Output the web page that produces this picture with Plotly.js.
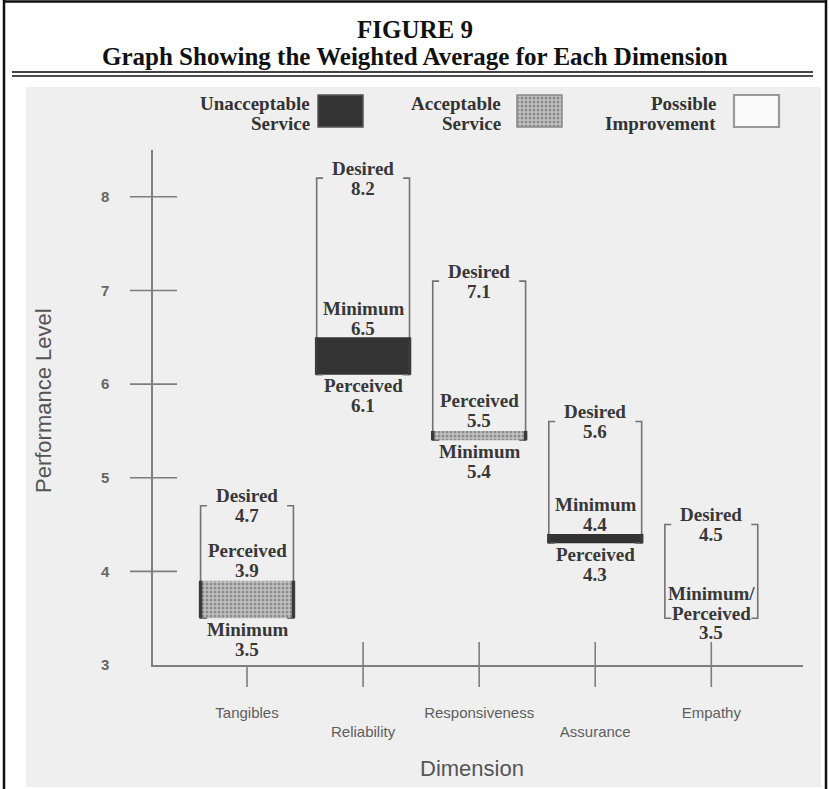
<!DOCTYPE html>
<html><head><meta charset="utf-8">
<script src="https://cdn.plot.ly/plotly-3.0.1.min.js"></script>
<style>html,body{margin:0;padding:0;background:#fff;} #chart{width:829px;height:789px;}</style>
</head><body><div id="chart"></div>
<script>
// ---- data ----
const categories = ['Tangibles', 'Reliability', 'Responsiveness', 'Assurance', 'Empathy'];
const desired   = [4.7, 8.2, 7.1, 5.6, 4.5];
const minimum   = [3.5, 6.5, 5.4, 4.4, 3.5];
const perceived = [3.9, 6.1, 5.5, 4.3, 3.5];
const yTickVals = [3, 4, 5, 6, 7, 8];
const legendNames = [['Unacceptable', 'Service'], ['Acceptable', 'Service'], ['Possible', 'Improvement']];
const titleLines = ['FIGURE 9', 'Graph Showing the Weighted Average for Each Dimension'];
const xTitle = 'Dimension';
const yTitle = 'Performance Level';

// ---- layout helpers (pixel -> paper, margins are 0) ----
const W = 829, H = 789;
const px = X => X / W;
const py = Y => 1 - Y / H;
const serif = 'Liberation Serif, Times New Roman, serif';
const sans = 'Liberation Sans, Arial, sans-serif';
const staggered = [false, true, false, true, false];
const tickAbove = [false, true, true, true, true];

const HALF = 0.4, HOOK = 0.055;
const traces = [];
const annotations = [];
const shapes = [];

// brackets
const bx = [], by = [];
categories.forEach((c, i) => {
  const top = desired[i], bot = Math.min(minimum[i], perceived[i]);
  bx.push(i - HALF + HOOK, i - HALF, i - HALF, i - HALF + HOOK, null,
          i + HALF - HOOK, i + HALF, i + HALF, i + HALF - HOOK, null);
  by.push(top, top, bot, bot, null, top, top, bot, bot, null);
});
traces.push({x: bx, y: by, mode: 'lines', line: {color: '#727272', width: 1.6}, hoverinfo: 'skip', xaxis: 'x', yaxis: 'y'});

// fills
const unX = [], unB = [], unH = [], acX = [], acB = [], acH = [];
categories.forEach((c, i) => {
  const lo = Math.min(minimum[i], perceived[i]), hi = Math.max(minimum[i], perceived[i]);
  if (hi === lo) return;
  if (perceived[i] < minimum[i]) { unX.push(i); unB.push(lo); unH.push(hi - lo); }
  else { acX.push(i); acB.push(lo); acH.push(hi - lo); }
});
traces.push({type: 'bar', x: unX, base: unB, y: unH, width: 2 * HALF,
  marker: {color: '#333', line: {width: 0}}, hoverinfo: 'skip', xaxis: 'x', yaxis: 'y'});
traces.push({type: 'bar', x: acX, base: acB, y: acH, width: 2 * HALF,
  marker: {color: '#b8b8b8', line: {width: 0},
    pattern: {shape: '.', fgcolor: '#8c8c8c', bgcolor: '#c2c2c2', size: 4, solidity: 0.45}},
  hoverinfo: 'skip', xaxis: 'x', yaxis: 'y'});
// fill side edges
const ex = [], ey = [];
categories.forEach((c, i) => {
  const lo = Math.min(minimum[i], perceived[i]), hi = Math.max(minimum[i], perceived[i]);
  if (hi === lo) return;
  ex.push(i - HALF, i - HALF, null, i + HALF, i + HALF, null);
  ey.push(lo, hi, null, lo, hi, null);
});
traces.push({x: ex, y: ey, mode: 'lines', line: {color: '#3a3a3a', width: 3.5}, hoverinfo: 'skip', xaxis: 'x', yaxis: 'y'});

// legend swatches (pixel-space overlay axes)
const swX = [340.5, 539.5, 756.5], swTop = 95, swH = 32, swW = 45;
traces.push({type: 'bar', x: [swX[0]], base: [swTop], y: [swH], width: swW, xaxis: 'x2', yaxis: 'y2',
  marker: {color: '#333', line: {color: '#555', width: 1.5}}, hoverinfo: 'skip'});
traces.push({type: 'bar', x: [swX[1]], base: [swTop], y: [swH], width: swW, xaxis: 'x2', yaxis: 'y2',
  marker: {color: '#b8b8b8', line: {color: '#8a8a8a', width: 1.5},
    pattern: {shape: '.', fgcolor: '#8c8c8c', bgcolor: '#c2c2c2', size: 4, solidity: 0.45}}, hoverinfo: 'skip'});
traces.push({type: 'bar', x: [swX[2]], base: [swTop], y: [swH], width: swW, xaxis: 'x2', yaxis: 'y2',
  marker: {color: '#fafafa', line: {color: '#999', width: 2.2}}, hoverinfo: 'skip'});

// legend text
const legRight = [312, 503, 718];
legendNames.forEach((lines, j) => {
  lines.forEach((t, k) => {
    annotations.push({xref: 'paper', yref: 'paper', x: px(legRight[j]), y: py(104 + 19 * k),
      xanchor: 'right', yanchor: 'middle', showarrow: false, text: t,
      font: {family: serif, size: 19, weight: 'bold', color: '#333'}});
  });
});

// box labels
function addLabel(i, value, nameLines, centerOff) {
  const lines = nameLines.concat([value.toFixed(1)]);
  const n = lines.length, sp = nameLines.length > 1 ? 19.5 : 20;
  lines.forEach((t, k) => {
    const off = centerOff + (k - (n - 1) / 2) * sp;
    annotations.push({xref: 'x', yref: 'y', x: i, y: value, yshift: -off,
      xanchor: 'center', yanchor: 'middle', showarrow: false, text: t,
      font: {family: serif, size: 19, weight: 'bold', color: '#383838'}});
  });
}
categories.forEach((c, i) => {
  addLabel(i, desired[i], ['Desired'], 0);
  if (minimum[i] === perceived[i]) {
    addLabel(i, minimum[i], ['Minimum/', 'Perceived'], -5);
  } else if (perceived[i] > minimum[i]) {
    addLabel(i, perceived[i], ['Perceived'], -20);
    addLabel(i, minimum[i], ['Minimum'], 21);
  } else {
    addLabel(i, minimum[i], ['Minimum'], -19);
    addLabel(i, perceived[i], ['Perceived'], 21);
  }
});

// titles
titleLines.forEach((t, k) => {
  annotations.push({xref: 'paper', yref: 'paper', x: px(414.5), y: py(k === 0 ? 30 : 57),
    xanchor: 'center', yanchor: 'middle', showarrow: false, text: t,
    font: {family: serif, size: 25, weight: 'bold', color: '#111'}});
});
annotations.push({xref: 'paper', yref: 'paper', x: px(472), y: py(768), xanchor: 'center', yanchor: 'middle',
  showarrow: false, text: xTitle, font: {family: sans, size: 22, color: '#555'}});
annotations.push({xref: 'paper', yref: 'paper', x: px(43), y: py(401), xanchor: 'center', yanchor: 'middle',
  showarrow: false, textangle: -90, text: yTitle, font: {family: sans, size: 22, color: '#555'}});

// background, frame, rules
shapes.push({type: 'rect', xref: 'paper', yref: 'paper', x0: px(26), x1: px(821), y0: py(787), y1: py(87),
  fillcolor: '#efefef', line: {width: 0}, layer: 'below'});
shapes.push({type: 'line', xref: 'paper', yref: 'paper', x0: px(4), x1: px(4), y0: 0, y1: 1, line: {color: '#111', width: 2.5}});
shapes.push({type: 'line', xref: 'paper', yref: 'paper', x0: px(826), x1: px(826), y0: 0, y1: 1, line: {color: '#111', width: 2.5}});
shapes.push({type: 'line', xref: 'paper', yref: 'paper', x0: px(3), x1: px(827), y0: py(1.5), y1: py(1.5), line: {color: '#111', width: 2.5}});
shapes.push({type: 'line', xref: 'paper', yref: 'paper', x0: px(12), x1: px(813), y0: py(72), y1: py(72), line: {color: '#444', width: 2.2}});
shapes.push({type: 'line', xref: 'paper', yref: 'paper', x0: px(12), x1: px(813), y0: py(76), y1: py(76), line: {color: '#111', width: 1.6}});

// y tick crosses
yTickVals.filter(v => v > yTickVals[0]).forEach(v => {
  shapes.push({type: 'line', xref: 'paper', yref: 'y', x0: px(130), x1: px(177), y0: v, y1: v, line: {color: '#7e7e7e', width: 1.6}});
});
// x tick crosses
categories.forEach((c, i) => {
  shapes.push({type: 'line', xref: 'x', yref: 'paper', x0: i, x1: i, y0: py(687), y1: tickAbove[i] ? py(642) : py(665),
    line: {color: '#7e7e7e', width: 1.6}});
});

const layout = {
  width: W, height: H,
  margin: {l: 0, r: 0, t: 0, b: 0, pad: 0},
  paper_bgcolor: '#ffffff', plot_bgcolor: 'rgba(0,0,0,0)',
  showlegend: false, barmode: 'overlay',
  xaxis: {domain: [px(153), px(803)], range: [-0.81, 4.79], anchor: 'y',
    tickvals: categories.map((c, i) => i),
    ticktext: categories.map((c, i) => staggered[i] ? '<br>' + c : c),
    ticks: '', showgrid: false, zeroline: false, showline: true, linecolor: '#7e7e7e', linewidth: 1.6,
    ticklabelstandoff: 33, tickfont: {family: sans, size: 15, color: '#5e5e5e'}},
  yaxis: {domain: [py(665), py(150)], range: [3, 8.5], anchor: 'x',
    tickvals: yTickVals, ticks: '', showgrid: false, zeroline: false, showline: true,
    linecolor: '#7e7e7e', linewidth: 1.6, ticklabelstandoff: 39,
    tickfont: {family: sans, size: 15, weight: 'bold', color: '#666'}},
  xaxis2: {domain: [0, 1], range: [0, W], anchor: 'y2', visible: false, fixedrange: true},
  yaxis2: {domain: [0, 1], range: [H, 0], anchor: 'x2', visible: false, fixedrange: true},
  shapes: shapes, annotations: annotations
};
Plotly.newPlot('chart', traces, layout, {displayModeBar: false, staticPlot: true});
</script></body></html>
